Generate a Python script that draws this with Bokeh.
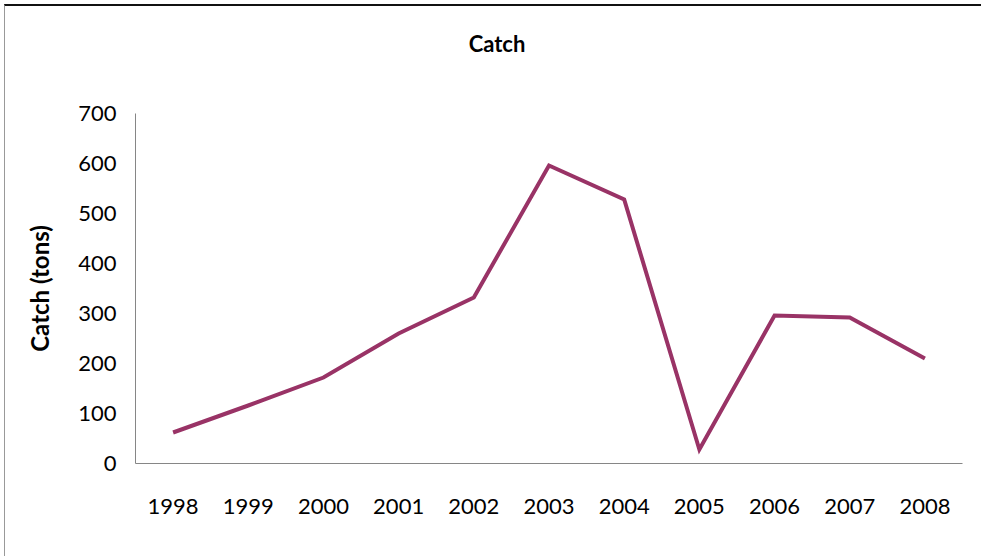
from bokeh.plotting import figure
from bokeh.models import Range1d, FixedTicker, FactorRange, Div
from bokeh.layouts import column
from bokeh.embed import file_html
from bokeh.resources import INLINE

years = ["1998", "1999", "2000", "2001", "2002", "2003", "2004", "2005", "2006", "2007", "2008"]
catch_tons = [62, 116, 172, 260, 332, 596, 528, 28, 296, 292, 210]
y_ticks = [0, 100, 200, 300, 400, 500, 600, 700]
chart_title = "Catch"

FONT = "Lato"

title_div = Div(text=chart_title, width=976, height=76, margin=0,
                styles={"font-family": FONT, "font-size": "22px", "font-weight": "bold",
                        "color": "black", "text-align": "center", "line-height": "76px",
                        "text-indent": "8px"})

p = figure(frame_width=827, frame_height=350, x_range=FactorRange(*years), y_range=Range1d(0, 700),
           output_backend="svg", toolbar_location=None)
p.min_border_left = 130
p.min_border_right = 19
p.min_border_top = 31
p.min_border_bottom = 93

p.line(x=years, y=catch_tons, line_color="#993366", line_width=4, line_join="miter")

p.xgrid.visible = False
p.ygrid.visible = False
p.outline_line_color = None

for ax in (p.xaxis[0], p.yaxis[0]):
    ax.axis_line_color = "#868686"
    ax.axis_line_width = 1
    ax.major_tick_line_color = None
    ax.minor_tick_line_color = None
    ax.major_label_text_font = FONT
    ax.major_label_text_font_size = "22px"
    ax.major_label_text_color = "black"

p.yaxis.ticker = FixedTicker(ticks=y_ticks)
p.yaxis.major_label_standoff = 13
p.xaxis.major_label_standoff = 29
p.yaxis.axis_label = "Catch (tons)"
p.yaxis.axis_label_text_font = FONT
p.yaxis.axis_label_text_font_size = "24px"
p.yaxis.axis_label_text_font_style = "bold"
p.yaxis.axis_label_text_color = "black"
p.yaxis.axis_label_standoff = 21

layout = column(title_div, p, spacing=0)
layout.styles = {"margin-left": "4px", "margin-top": "4px",
                 "border-top": "2px solid #111", "border-left": "1px solid #999"}

open("out.html", "w").write(file_html(layout, INLINE))
